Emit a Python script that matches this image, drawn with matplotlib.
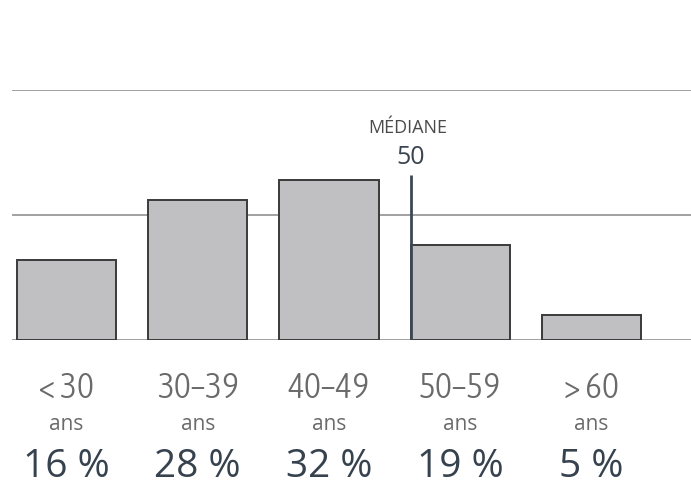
import matplotlib
matplotlib.use("Agg")
import matplotlib.pyplot as plt
from matplotlib import font_manager

categories = ["< 30", "30\u201339", "40\u201349", "50\u201359", "> 60"]
unit_labels = ["ans", "ans", "ans", "ans", "ans"]
values = [16, 28, 32, 19, 5]
pct_labels = ["16 %", "28 %", "32 %", "19 %", "5 %"]
grid_ticks = [0, 25, 50]
median_label = "MÉDIANE"
median_value = "50"
median_index = 3  # median falls at the left edge of the 50–59 group

# pick a light, narrow face for the age-group labels if one is installed
cands = []
for f in font_manager.fontManager.ttflist:
    nm = f.name
    if ("Narrow" in nm or "Condensed" in nm or "condensed" in str(f.stretch)) and f.style == "normal":
        w = f.weight if isinstance(f.weight, (int, float)) else 400
        cands.append((abs(w - 300), f.fname))
if cands:
    cands.sort()
    cond_props = dict(fontproperties=font_manager.FontProperties(fname=cands[0][1]))
else:
    cond_props = dict(family=["Roboto", "DejaVu Sans"], fontweight="light")

fig = plt.figure(figsize=(6.91, 4.8), dpi=100)
ax = fig.add_axes([12/691, (480-340)/480, 1-12/691, 250/480])

bw = 0.755
xs = list(range(len(values)))
ax.bar(xs, values, width=bw, color="#c0c0c2", edgecolor="#3a3a3a", linewidth=1.4, zorder=3)

for g in grid_ticks:
    ax.axhline(g, color="#9a9a9a", linewidth=1.3, zorder=1)

ax.set_xlim(-0.415, 4.758)
ax.set_ylim(0, 50)
ax.axis("off")

mx = median_index - bw/2
ax.plot([mx, mx], [-0.2, 33], color="#3d4753", linewidth=2, zorder=4, solid_capstyle="butt")
ax.text(mx - 0.02, 42.4, median_label, ha="center", va="center", fontsize=13, color="#4a4a4a",
        family=["Open Sans", "DejaVu Sans"], clip_on=False)
ax.text(mx, 36.6, median_value, ha="center", va="center", fontsize=18, color="#3a4450",
        family=["Open Sans", "DejaVu Sans"], clip_on=False)

trans = ax.get_xaxis_transform()
for i, (c, u, p) in enumerate(zip(categories, unit_labels, pct_labels)):
    t = ax.text(i, -(398-340)/250, c, transform=trans, ha="center", va="baseline",
                color="#6a6a6a", clip_on=False, **cond_props)
    t.set_fontsize(26)
    ax.text(i, -(425-340)/250, u, transform=trans, ha="center", va="center", fontsize=15,
            color="#6a6a6a", family=["Open Sans", "DejaVu Sans"], clip_on=False)
    ax.text(i, -(477-340)/250, p, transform=trans, ha="center", va="baseline", fontsize=28,
            color="#37424f", family=["Open Sans", "DejaVu Sans"], clip_on=False)

fig.savefig("out.png", dpi=100)
